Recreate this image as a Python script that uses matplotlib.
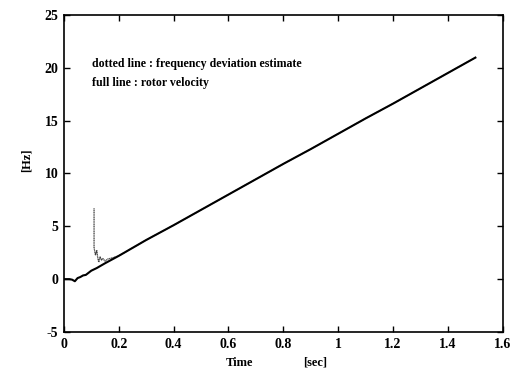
import matplotlib
matplotlib.use("Agg")
import matplotlib.pyplot as plt

# rotor velocity (full line)
rotor_t = [0.0, 0.02, 0.03, 0.04, 0.05, 0.06, 0.07, 0.08, 0.09, 0.10, 0.12,
           0.15, 0.20, 0.30, 0.40, 0.50, 0.60, 0.70, 0.80, 0.90, 1.00, 1.10,
           1.20, 1.30, 1.40, 1.50]
rotor_v = [0.0, 0.0, -0.05, -0.2, 0.1, 0.2, 0.35, 0.4, 0.6, 0.8, 1.05,
           1.5, 2.2, 3.7, 5.1, 6.55, 8.0, 9.45, 10.9, 12.3, 13.75, 15.2,
           16.6, 18.05, 19.5, 20.95]

# frequency deviation estimate (dotted line)
est_t = [0.110, 0.110, 0.112, 0.115, 0.120, 0.123, 0.127, 0.132, 0.137,
         0.142, 0.150, 0.160, 0.175, 0.20, 0.30, 0.40, 0.50, 0.60, 0.70,
         0.80, 0.90, 1.00, 1.10, 1.20, 1.30, 1.40, 1.50]
est_v = [6.7, 3.0, 2.7, 2.3, 2.7, 2.1, 1.6, 2.1, 1.8, 1.95, 1.7, 1.9,
         2.0, 2.2, 3.7, 5.1, 6.55, 8.0, 9.45, 10.9, 12.3, 13.75, 15.2,
         16.6, 18.05, 19.5, 20.95]

x_ticks = [0, 0.2, 0.4, 0.6, 0.8, 1.0, 1.2, 1.4, 1.6]
x_tick_labels = ["0", "0.2", "0.4", "0.6", "0.8", "1", "1.2", "1.4", "1.6"]
y_ticks = [-5, 0, 5, 10, 15, 20, 25]

plt.rcParams["font.family"] = ["Liberation Serif", "DejaVu Serif"]
plt.rcParams["font.weight"] = "bold"
plt.rcParams["axes.unicode_minus"] = False

fig = plt.figure(figsize=(5.11, 3.79), dpi=100)
ax = fig.add_axes([0.125, 0.124, 0.859, 0.837])

ax.plot(est_t, est_v, color="0.25", linestyle=(0, (1, 0.4)), linewidth=0.9)
ax.plot(rotor_t, rotor_v, color="black", linewidth=1.5)

ax.set_xlim(0, 1.6)
ax.set_ylim(-5, 25)
ax.set_xticks(x_ticks)
ax.set_xticklabels(x_tick_labels)
ax.set_yticks(y_ticks)
ax.tick_params(direction="in", length=4, width=1, top=True, right=True,
               labelsize=10, pad=4)
for lbl in ax.get_xticklabels() + ax.get_yticklabels():
    lbl.set_fontweight("bold")
for sp in ax.spines.values():
    sp.set_linewidth(1.2)

ax.text(0.065, 0.846, "dotted line : frequency deviation estimate",
        transform=ax.transAxes, fontsize=8.6, fontweight="bold", va="center")
ax.text(0.065, 0.784, "full line : rotor velocity",
        transform=ax.transAxes, fontsize=8.6, fontweight="bold", va="center")

ax.text(0.40, -0.107, "Time", transform=ax.transAxes, fontsize=9,
        fontweight="bold", ha="center", va="baseline")
ax.text(0.572, -0.107, "[sec]", transform=ax.transAxes, fontsize=9,
        fontweight="bold", ha="center", va="baseline")
ax.text(-0.084, 0.54, "[Hz]", transform=ax.transAxes, fontsize=9,
        fontweight="bold", ha="center", va="center", rotation=90)

fig.savefig("out.png", dpi=100)
